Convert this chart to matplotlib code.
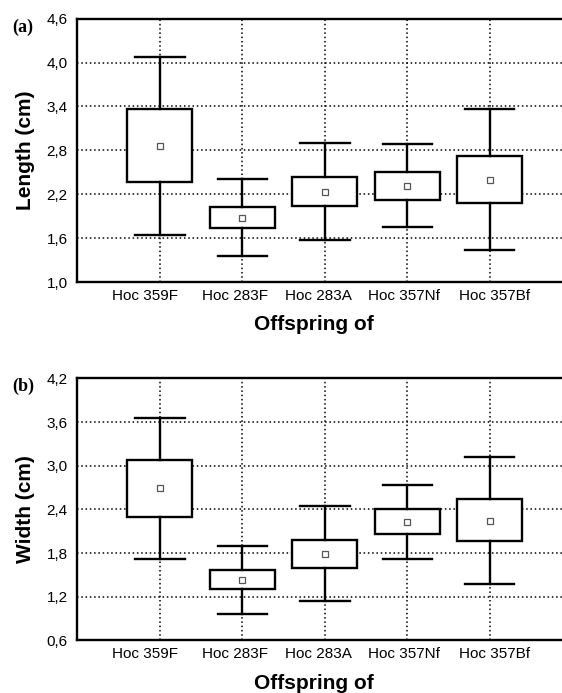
import matplotlib
matplotlib.use("Agg")
import matplotlib.pyplot as plt
import numpy as np

plt.rcParams['font.family'] = ['Liberation Sans', 'DejaVu Sans']

categories = ["Hoc 359F", "Hoc 283F", "Hoc 283A", "Hoc 357Nf", "Hoc 357Bf"]
# label centres as set in the original (slightly offset from the category positions)
label_pos = [-0.18, 0.91, 1.92, 2.96, 4.06]

# Length (cm)
len_whislo = [1.65, 1.35, 1.57, 1.75, 1.44]
len_q1     = [2.37, 1.74, 2.04, 2.125, 2.08]
len_mean   = [2.86, 1.87, 2.225, 2.31, 2.40]
len_q3     = [3.36, 2.02, 2.43, 2.51, 2.73]
len_whishi = [4.08, 2.41, 2.90, 2.89, 3.365]

# Width (cm)
wid_whislo = [1.72, 0.96, 1.14, 1.72, 1.38]
wid_q1     = [2.30, 1.31, 1.59, 2.06, 1.96]
wid_mean   = [2.69, 1.43, 1.79, 2.23, 2.24]
wid_q3     = [3.08, 1.56, 1.98, 2.40, 2.54]
wid_whishi = [3.655, 1.90, 2.45, 2.74, 3.12]

len_ticks = [1.0, 1.6, 2.2, 2.8, 3.4, 4.0, 4.6]
wid_ticks = [0.6, 1.2, 1.8, 2.4, 3.0, 3.6, 4.2]


def make_stats(lo, q1, mean, q3, hi):
    out = []
    for a, b, m, c, d in zip(lo, q1, mean, q3, hi):
        out.append(dict(whislo=a, q1=b, med=m, mean=m, q3=c, whishi=d, fliers=[]))
    return out


fig = plt.figure(figsize=(5.62, 6.93), dpi=100)
ax1 = fig.add_axes([0.1377, 0.593, 0.8623, 0.380])
ax2 = fig.add_axes([0.1377, 0.076, 0.8623, 0.378])

panels = [
    (ax1, make_stats(len_whislo, len_q1, len_mean, len_q3, len_whishi), len_ticks, "Length (cm)", "(a)", 0.960),
    (ax2, make_stats(wid_whislo, wid_q1, wid_mean, wid_q3, wid_whishi), wid_ticks, "Width (cm)", "(b)", 0.442),
]

pos = np.arange(len(categories))
for ax, stats, ticks, ylab, tag, ty in panels:
    ax.set_axisbelow(True)
    ax.bxp(stats, positions=pos, widths=0.79, showmeans=True, showfliers=False,
           patch_artist=True,
           boxprops=dict(facecolor='white', edgecolor='black', linewidth=1.7),
           whiskerprops=dict(color='black', linewidth=1.7),
           capprops=dict(color='black', linewidth=1.7),
           medianprops=dict(linewidth=0),
           meanprops=dict(marker='s', markersize=5, markerfacecolor='white',
                          markeredgecolor='#555555', markeredgewidth=0.9),
           capwidths=0.6, zorder=3)
    ax.set_xlim(-1.0, 4.876)
    ax.set_ylim(ticks[0], ticks[-1])
    ax.set_yticks(ticks)
    ax.set_yticklabels([f"{t:.1f}".replace('.', ',') for t in ticks], fontsize=11)
    # grid at category positions, labels at their own positions
    ax.set_xticks(pos)
    ax.set_xticklabels([])
    ax.set_xticks(label_pos, minor=True)
    ax.set_xticklabels(categories, minor=True, fontsize=11)
    ax.tick_params(axis='x', which='both', length=0, pad=5)
    ax.tick_params(axis='y', length=0, pad=7)
    ax.grid(True, which='major', color='black', linewidth=1.1, linestyle=(0, (1, 1.8)))
    for s in ['left', 'bottom', 'top']:
        ax.spines[s].set_linewidth(1.7)
    ax.spines['right'].set_visible(False)
    ax.set_ylabel(ylab, fontsize=15, fontweight='bold', labelpad=8)
    ax.set_xlabel("Offspring of", fontsize=15, fontweight='bold', labelpad=7)
    ax.xaxis.set_label_coords(0.488, -0.125 if ax is ax1 else -0.13)
    fig.text(0.0226, ty, tag, family='Liberation Serif', fontweight='bold',
             fontsize=13, ha='left', va='center')

fig.savefig("out.png", dpi=100)
